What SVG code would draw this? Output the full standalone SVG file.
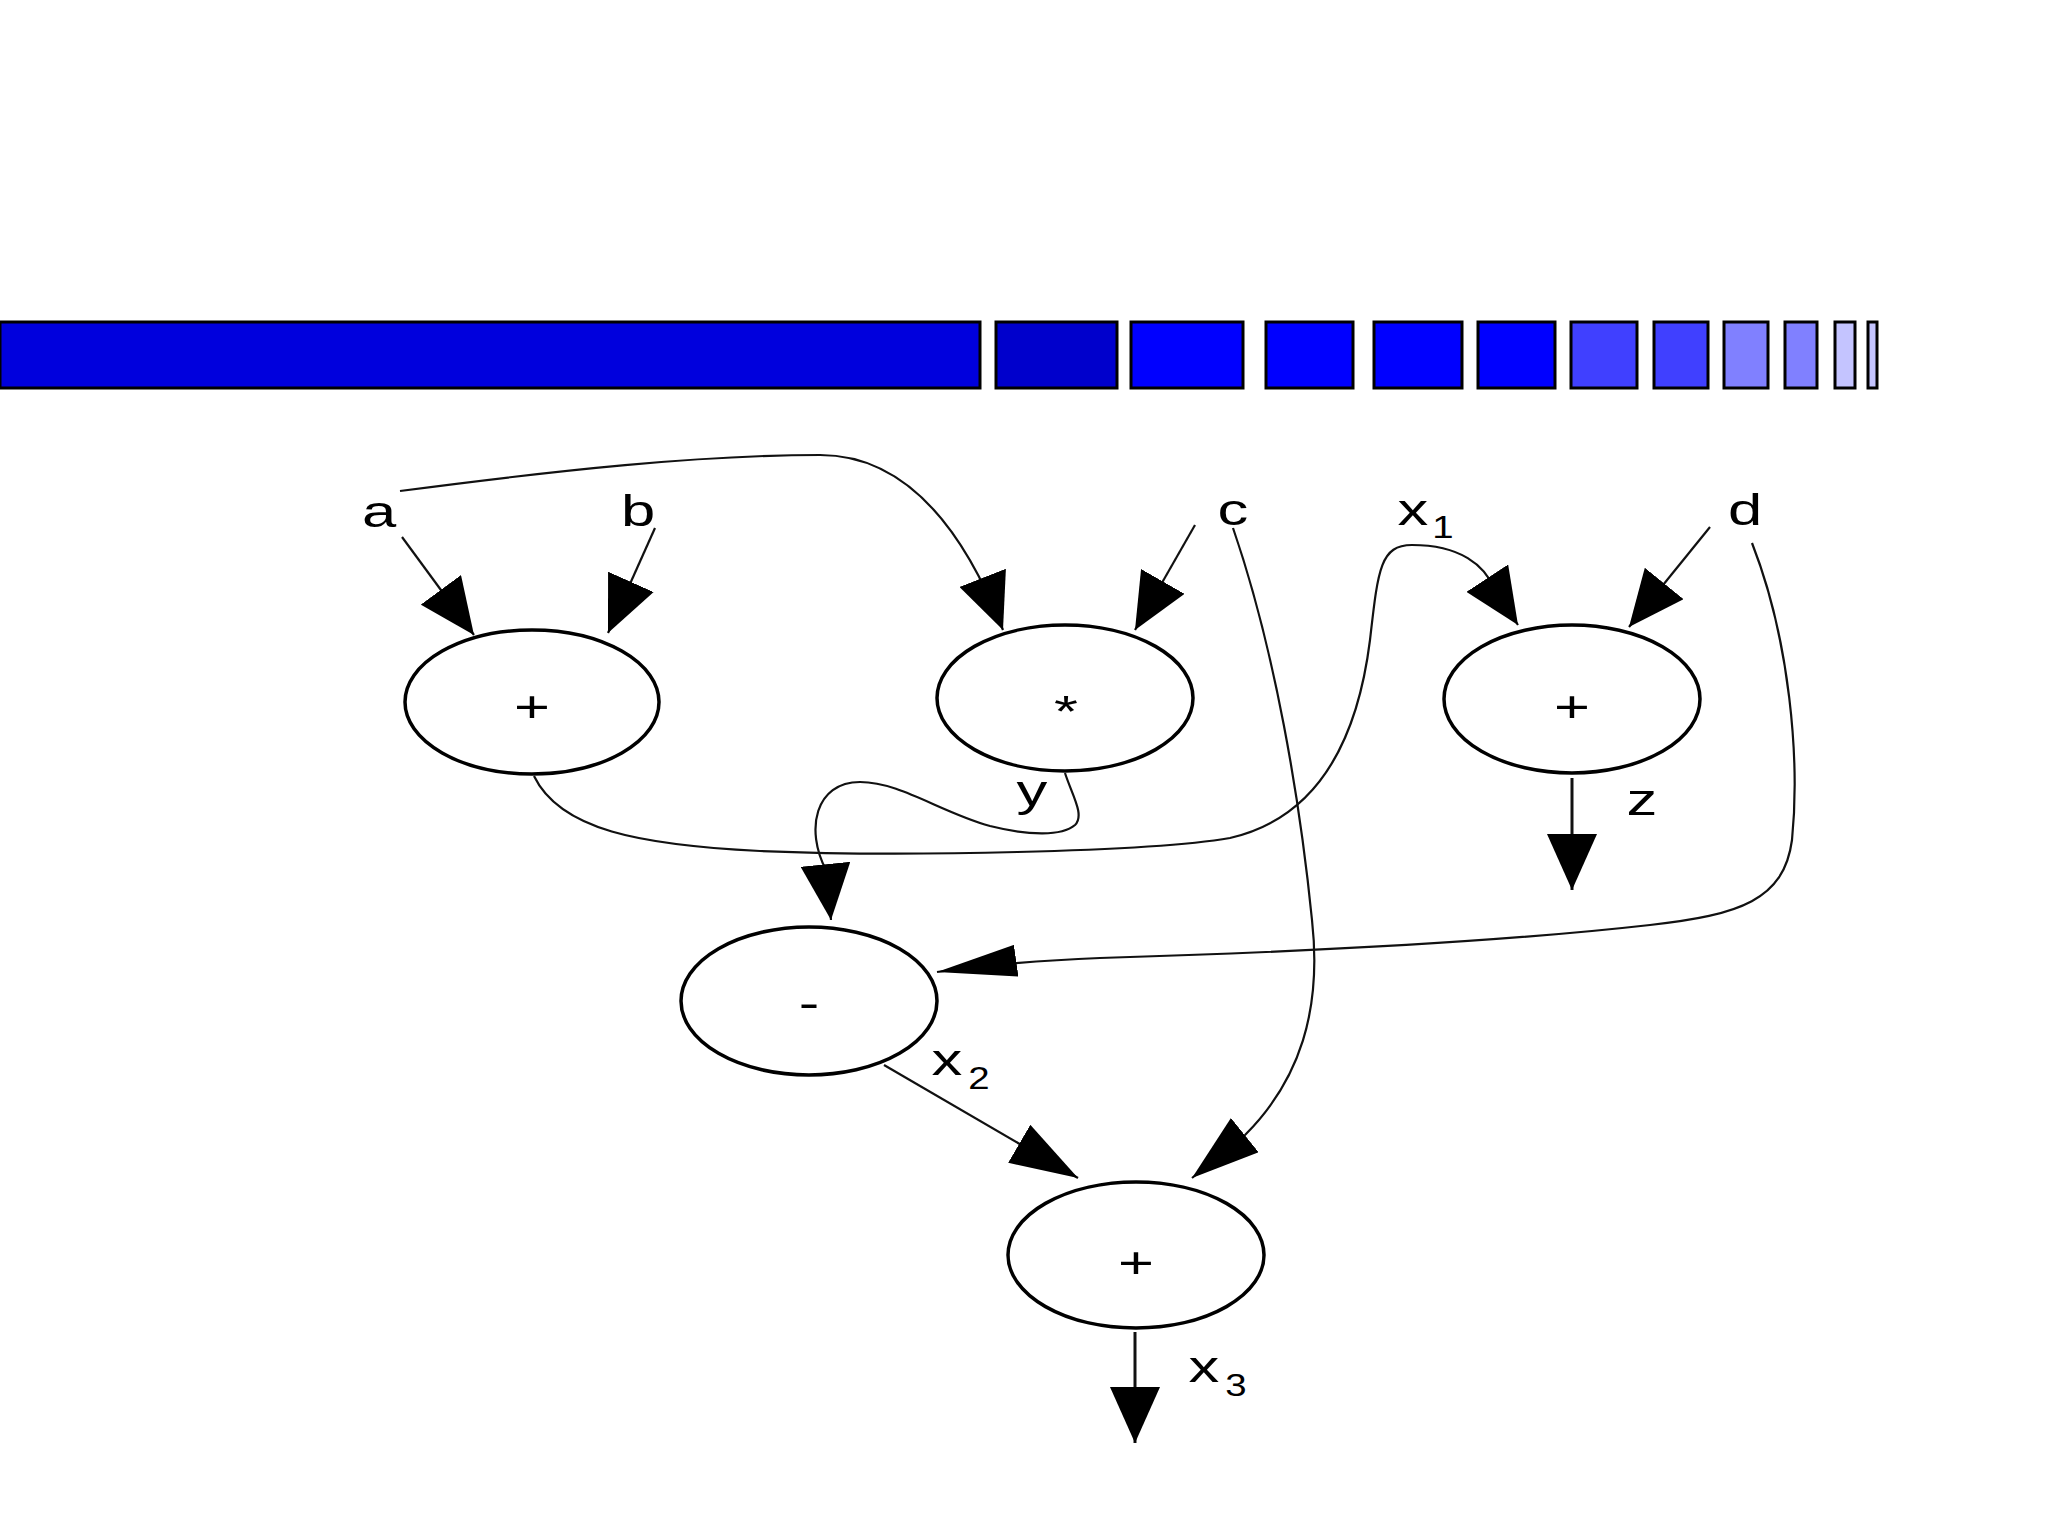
<svg xmlns="http://www.w3.org/2000/svg" width="2048" height="1536" viewBox="0 0 2048 1536">
<style>
.bar{stroke:#000;stroke-width:3}
.node{fill:#fff;stroke:#000;stroke-width:3.5}
.edge{fill:none;stroke:#111;stroke-width:2.2;marker-end:url(#arr)}
.diag{marker-end:url(#arrd)}
.horiz{marker-end:url(#arrh)}
.thick{stroke-width:3}
.lbl{font-family:"Liberation Sans",Arial,sans-serif;font-size:44px;fill:#000;text-anchor:middle}
.sub{font-size:32px}
</style>
<defs>
<marker id="arr" markerUnits="userSpaceOnUse" markerWidth="56" markerHeight="50" refX="56" refY="25" orient="auto" viewBox="0 0 56 50">
<path d="M0,0 L56,25 L0,50 z" fill="#000"/>
</marker>
<marker id="arrd" markerUnits="userSpaceOnUse" markerWidth="68" markerHeight="44" refX="68" refY="22" orient="auto" viewBox="0 0 68 44">
<path d="M0,0 L68,22 L0,44 z" fill="#000"/>
</marker>
<marker id="arrh" markerUnits="userSpaceOnUse" markerWidth="80" markerHeight="32" refX="80" refY="16" orient="auto" viewBox="0 0 80 32">
<path d="M0,0 L80,16 L0,32 z" fill="#000"/>
</marker>
</defs>
<rect width="2048" height="1536" fill="#fff"/>
<g id="header-bar">
<rect class="bar" x="0" y="322" width="980" height="66" fill="#0000DD"/>
<rect class="bar" x="996" y="322" width="121" height="66" fill="#0000CC"/>
<rect class="bar" x="1131" y="322" width="112" height="66" fill="#0000FF"/>
<rect class="bar" x="1266" y="322" width="87" height="66" fill="#0000FF"/>
<rect class="bar" x="1374" y="322" width="88" height="66" fill="#0000FF"/>
<rect class="bar" x="1478" y="322" width="77" height="66" fill="#0000FF"/>
<rect class="bar" x="1571" y="322" width="66" height="66" fill="#4040FF"/>
<rect class="bar" x="1654" y="322" width="54" height="66" fill="#4040FF"/>
<rect class="bar" x="1724" y="322" width="44" height="66" fill="#8080FF"/>
<rect class="bar" x="1785" y="322" width="32" height="66" fill="#8080FF"/>
<rect class="bar" x="1835" y="322" width="20" height="66" fill="#C4C4FF"/>
<rect class="bar" x="1868" y="322" width="9" height="66" fill="#C4C4FF"/>
</g>
<g id="connectors">
<path class="edge" d="M402 537 L474 635"/>
<path class="edge" d="M655 528 L608 633"/>
<path class="edge" d="M400 491 C560 470 700 455 820 455 C900 455 960 520 1003 630"/>
<path class="edge" d="M1195 525 L1135 630"/>
<path class="edge diag" d="M1233 528 C1275 650 1300 800 1312 920 C1322 1010 1300 1080 1245 1135 L1192 1178"/>
<path class="edge" d="M534 776 C560 830 640 845 760 851 C900 857 1150 852 1230 838 C1330 815 1360 720 1370 640 C1378 570 1380 545 1412 545 C1460 545 1485 565 1495 590 L1518 625"/>
<path class="edge" d="M1065 773 C1072 795 1085 815 1075 825 C1062 836 1030 836 990 826 C940 812 900 782 860 782 C815 782 805 830 826 870 L831 920"/>
<path class="edge" d="M1710 527 L1629 627"/>
<path class="edge horiz" d="M1752 543 C1790 640 1800 760 1792 840 C1784 900 1740 915 1650 925 C1500 942 1300 952 1100 958 C1050 960 1000 963 937 972"/>
<path class="edge thick" d="M1572 778 L1572 890"/>
<path class="edge diag" d="M884 1065 L1078 1178"/>
<path class="edge thick" d="M1135 1332 L1135 1443"/>
</g>
<g id="labels">
<text class="lbl" transform="translate(379,527) scale(1.4,1)">a</text>
<text class="lbl" transform="translate(638,526) scale(1.4,1)">b</text>
<text class="lbl" transform="translate(1233,525) scale(1.4,1)">c</text>
<text class="lbl" transform="translate(1413,525) scale(1.4,1)">x</text>
<text class="lbl sub" transform="translate(1443,538) scale(1.2,1)">1</text>
<text class="lbl" transform="translate(1745,525) scale(1.4,1)">d</text>
<text class="lbl" transform="translate(1032,806) scale(1.4,1)">y</text>
<text class="lbl" transform="translate(1642,815) scale(1.4,1)">z</text>
<text class="lbl" transform="translate(947,1075) scale(1.4,1)">x</text>
<text class="lbl sub" transform="translate(979,1089) scale(1.2,1)">2</text>
<text class="lbl" transform="translate(1204,1382) scale(1.4,1)">x</text>
<text class="lbl sub" transform="translate(1236,1396) scale(1.2,1)">3</text>
</g>
<g id="node-add1">
<ellipse class="node" cx="532" cy="702" rx="127" ry="72"/>
<text class="lbl" transform="translate(532,722) scale(1.4,1)">+</text>
</g>
<g id="node-mul">
<ellipse class="node" cx="1065" cy="698" rx="128" ry="73"/>
<text class="lbl" font-size="40" transform="translate(1066,727) scale(1.4,1)">*</text>
</g>
<g id="node-add2">
<ellipse class="node" cx="1572" cy="699" rx="128" ry="74"/>
<text class="lbl" transform="translate(1572,722) scale(1.4,1)">+</text>
</g>
<g id="node-sub">
<ellipse class="node" cx="809" cy="1001" rx="128" ry="74"/>
<text class="lbl" transform="translate(809,1018) scale(1.4,1)">-</text>
</g>
<g id="node-add3">
<ellipse class="node" cx="1136" cy="1255" rx="128" ry="73"/>
<text class="lbl" transform="translate(1136,1278) scale(1.4,1)">+</text>
</g>
</svg>
